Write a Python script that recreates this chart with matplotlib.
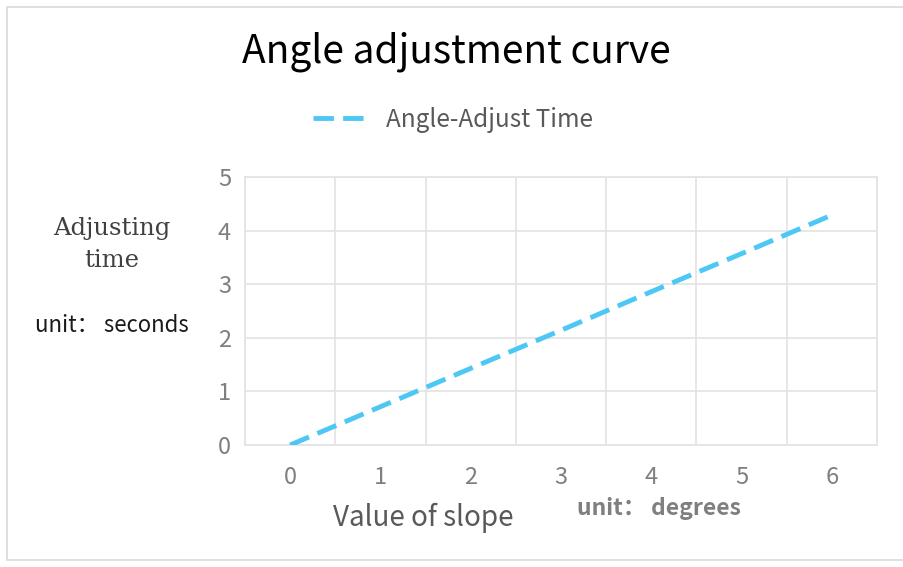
import matplotlib
matplotlib.use("Agg")
import matplotlib.pyplot as plt
from matplotlib.patches import Rectangle

# Data
slope_deg = [0, 1, 2, 3, 4, 5, 6]
adjust_time = [0.0, 0.714, 1.43, 2.14, 2.86, 3.57, 4.29]
y_ticks = [0, 1, 2, 3, 4, 5]

SANS = ["Noto Sans CJK SC", "DejaVu Sans"]
SERIF = ["DejaVu Serif", "Liberation Serif"]
plt.rcParams["font.family"] = SANS

W, H = 904, 567
fig = plt.figure(figsize=(W / 100, H / 100), dpi=100)


def px(x, y):
    return x / W, 1 - y / H


# outer chart frame
fig.patches.append(Rectangle(px(7, 560), (W - 7) / W, 553 / H, transform=fig.transFigure,
                             fill=False, edgecolor="#D9D9D9", linewidth=1.2))

ax = fig.add_axes([245 / W, 1 - 445 / H, (877 - 245) / W, (445 - 177) / H])
line_color = "#4DC8F4"
grid_color = "#E3E3E3"

ax.plot(slope_deg, adjust_time, color=line_color, linewidth=3.5,
        dashes=(4.2, 1.9), solid_capstyle="butt", dash_capstyle="butt",
        label="Angle-Adjust Time", zorder=3)

ax.set_xlim(-0.5, 6.5)
ax.set_ylim(0, 5)
ax.set_yticks(y_ticks)
ax.set_xticks(slope_deg)
ax.set_xticks([v + 0.5 for v in [-1] + slope_deg], minor=True)
ax.grid(which="minor", axis="x", color=grid_color, linewidth=1.2)
ax.grid(which="major", axis="y", color=grid_color, linewidth=1.2)
ax.tick_params(which="both", length=0)
ax.tick_params(axis="both", labelsize=17, labelcolor="#7F7F7F")
ax.tick_params(axis="y", pad=10)
ax.tick_params(axis="x", pad=15)
for s in ax.spines.values():
    s.set_color(grid_color)
    s.set_linewidth(1.2)

# title and legend
fig.text(*px(456, 52), "Angle adjustment curve", ha="center", va="center",
         fontsize=28, color="#000000")
leg = fig.legend(loc="center", bbox_to_anchor=px(453, 120), frameon=False,
                 fontsize=17.5, handlelength=2.3, handletextpad=0.7,
                 labelcolor="#595959")

# axis titles
fig.text(*px(112, 228), "Adjusting", ha="center", va="center",
         fontsize=17.5, color="#404040", family=SERIF)
fig.text(*px(112, 261), "time", ha="center", va="center",
         fontsize=17.5, color="#404040", family=SERIF)
fig.text(*px(112, 325), "unit： seconds", ha="center", va="center",
         fontsize=16, color="#1A1A1A")
fig.text(*px(423, 518), "Value of slope", ha="center", va="center",
         fontsize=20, color="#595959")
fig.text(*px(659, 509), "unit： degrees", ha="center", va="center",
         fontsize=16.5, color="#7F7F7F", fontweight="bold")

fig.savefig("out.png", dpi=100)
